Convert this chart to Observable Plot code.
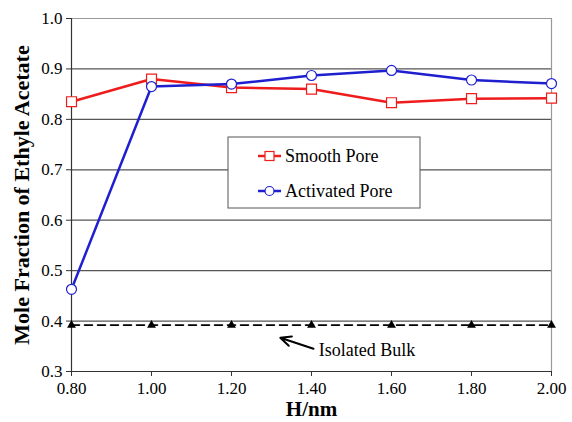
<!DOCTYPE html>
<html>
<head>
<meta charset="utf-8">
<script src="https://cdn.jsdelivr.net/npm/d3@7"></script>
<script src="https://cdn.jsdelivr.net/npm/@observablehq/plot@0.6"></script>
<style>
  html, body { margin: 0; padding: 0; background: white; }
  #chart svg { display: block; }
  #chart svg text { font-family: 'Liberation Serif', 'Times New Roman', Times, 'DejaVu Serif', serif !important; }
</style>
</head>
<body>
<div id="chart"></div>
<script>
// ---- data ----
const H = [0.8, 1.0, 1.2, 1.4, 1.6, 1.8, 2.0];
const smoothPore = [0.835, 0.880, 0.863, 0.860, 0.833, 0.841, 0.842];
const activatedPore = [0.463, 0.865, 0.870, 0.887, 0.897, 0.878, 0.871];
const isolatedBulk = [0.392, 0.392, 0.392, 0.392, 0.392, 0.392, 0.392];
const seriesNames = ["Smooth Pore", "Activated Pore"];
const seriesColors = ["#ee1c1c", "#1f1fd0"];
const xTicks = [0.8, 1.0, 1.2, 1.4, 1.6, 1.8, 2.0];
const yTicks = [0.3, 0.4, 0.5, 0.6, 0.7, 0.8, 0.9, 1.0];
const yGrid = [0.4, 0.5, 0.6, 0.7, 0.8, 0.9];
const xTitle = "H/nm";
const yTitle = "Mole Fraction of Ethyle Acetate";
const annotationText = "Isolated Bulk";
const annotationPos = {x: 1.418, y: 0.343};
const arrowFrom = {x: 1.405, y: 0.345};
const arrowTo = {x: 1.322, y: 0.367};

const smooth = H.map((h, i) => ({x: h, y: smoothPore[i]}));
const activated = H.map((h, i) => ({x: h, y: activatedPore[i]}));
const bulk = H.map((h, i) => ({x: h, y: isolatedBulk[i]}));

const FONT = "'Liberation Serif', 'Times New Roman', Times, 'DejaVu Serif', serif";

function legendMark() {
  return (index, scales, values, dims) => {
    const g = d3.create("svg:g");
    const x0 = 228, y0 = 137, w = 192, h = 71;
    g.append("rect").attr("x", x0).attr("y", y0).attr("width", w).attr("height", h)
      .attr("fill", "white").attr("stroke", "#555").attr("stroke-width", 1);
    seriesNames.forEach((name, i) => {
      const cy = y0 + 19 + i * 35;
      g.append("path").attr("d", `M${x0 + 30},${cy}H${x0 + 53}`)
        .attr("fill", "none").attr("stroke", seriesColors[i]).attr("stroke-width", 2.5);
      if (i === 0) {
        g.append("rect").attr("x", x0 + 41.5 - 4.5).attr("y", cy - 4.5).attr("width", 9).attr("height", 9)
          .attr("fill", "white").attr("stroke", seriesColors[i]).attr("stroke-width", 1.2);
      } else {
        g.append("circle").attr("cx", x0 + 41.5).attr("cy", cy).attr("r", 4.5)
          .attr("fill", "white").attr("stroke", seriesColors[i]).attr("stroke-width", 1.2);
      }
      g.append("text").attr("x", x0 + 57).attr("y", cy).attr("dy", "0.35em")
        .attr("text-anchor", "start")
        .attr("font-family", FONT).attr("font-size", 18).attr("fill", "black").text(name);
    });
    return g.node();
  };
}

const chart = Plot.plot({
  width: 572,
  height: 422,
  marginLeft: 71,
  marginRight: 21,
  marginTop: 18,
  marginBottom: 51,
  style: {fontFamily: FONT, fontSize: "17px", background: "white", color: "black"},
  x: {domain: [0.8, 2.0]},
  y: {domain: [0.3, 1.0]},
  marks: [
    Plot.ruleY(yGrid, {stroke: "#555", strokeWidth: 1.2}),
    Plot.ruleY([1.0], {stroke: "#999", strokeWidth: 1.2}),
    Plot.ruleX([2.0], {stroke: "#999", strokeWidth: 1.2}),
    Plot.ruleX([0.8], {stroke: "#333", strokeWidth: 1.2}),
    Plot.ruleY([0.3], {stroke: "#333", strokeWidth: 1.2}),
    Plot.axisY({ticks: yTicks, tickFormat: d => d.toFixed(1), tickSize: 5, tickPadding: 4, label: null, stroke: "#333", fontFamily: FONT, fontSize: 17}),
    Plot.axisX({ticks: xTicks, tickFormat: d => d.toFixed(2), tickSize: 5, tickPadding: 5, label: null, stroke: "#333", fontFamily: FONT, fontSize: 17}),
    Plot.text([yTitle], {frameAnchor: "left", textAnchor: "middle", rotate: -90, dx: -50, dy: 0, fontWeight: "bold", fontSize: 22, fontFamily: FONT}),
    Plot.text([xTitle], {frameAnchor: "bottom", textAnchor: "middle", dy: 44, fontWeight: "bold", fontSize: 21, fontFamily: FONT}),
    // isolated bulk
    Plot.line(bulk, {x: "x", y: "y", stroke: "black", strokeWidth: 1.6, strokeDasharray: "8,5"}),
    Plot.dot(bulk, {x: "x", y: "y", symbol: "triangle", fill: "black", r: 3.3}),
    // smooth pore
    Plot.line(smooth, {x: "x", y: "y", stroke: seriesColors[0], strokeWidth: 2.5}),
    Plot.dot(smooth, {x: "x", y: "y", symbol: "square", fill: "white", stroke: seriesColors[0], strokeWidth: 1.2, r: 5.6}),
    // activated pore
    Plot.line(activated, {x: "x", y: "y", stroke: seriesColors[1], strokeWidth: 2.5}),
    Plot.dot(activated, {x: "x", y: "y", symbol: "circle", fill: "white", stroke: seriesColors[1], strokeWidth: 1.2, r: 5}),
    // annotation
    Plot.arrow([{x1: arrowFrom.x, y1: arrowFrom.y, x2: arrowTo.x, y2: arrowTo.y}],
      {x1: "x1", y1: "y1", x2: "x2", y2: "y2", stroke: "black", strokeWidth: 2, headLength: 9, headAngle: 50}),
    Plot.text([annotationText], {x: annotationPos.x, y: annotationPos.y, textAnchor: "start", fontSize: 18, fontFamily: FONT}),
    legendMark()
  ]
});
document.getElementById("chart").append(chart);
</script>
</body>
</html>
